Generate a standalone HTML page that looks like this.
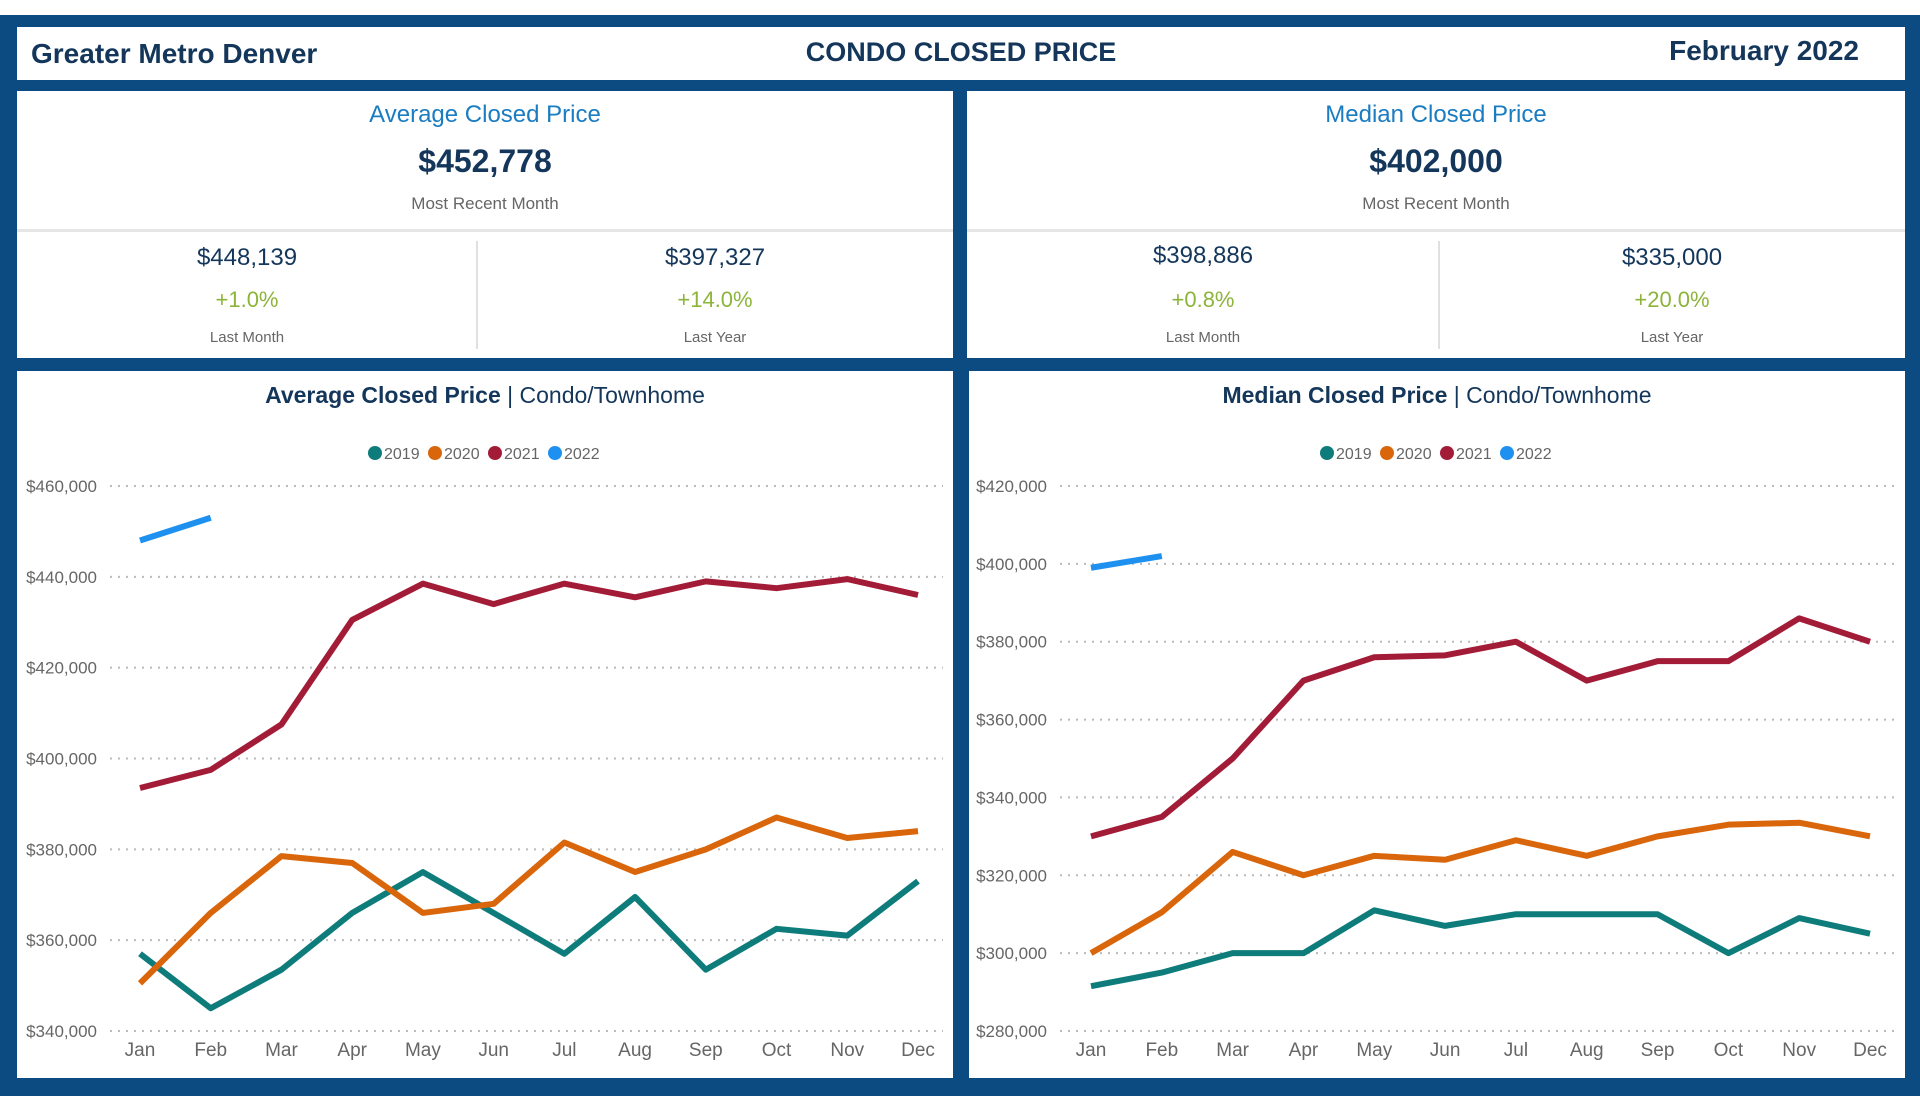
<!DOCTYPE html>
<html><head><meta charset="utf-8"><style>
body{margin:0;width:1920px;height:1110px;background:#fff;position:relative;overflow:hidden;font-family:"Liberation Sans",sans-serif;}
.abs{position:absolute;}
.frame{left:0;top:15px;width:1920px;height:1081px;background:#0c4a82;}
.box{background:#fff;position:absolute;}
.c{text-align:center;white-space:nowrap;}
</style></head><body>
<div class="abs frame"></div>
<div class="box" style="left:17px;top:27px;width:1888px;height:53px">
  <div class="abs" style="left:14px;top:11px;font-size:28px;font-weight:bold;color:#13365a;">Greater Metro Denver</div>
  <div class="abs c" style="left:644px;width:600px;top:10px;font-size:27px;font-weight:bold;color:#13365a;">CONDO CLOSED PRICE</div>
  <div class="abs" style="right:46px;top:8px;font-size:28px;font-weight:bold;color:#13365a;">February 2022</div>
</div>

<div class="box" style="left:17px;top:91px;width:936px;height:267px">
  <div class="abs c" style="left:0;width:936px;top:10px;font-size:24px;color:#1a7cc1">Average Closed Price</div>
  <div class="abs c" style="left:0;width:936px;top:52px;font-size:32px;font-weight:bold;color:#13365a">$452,778</div>
  <div class="abs c" style="left:0;width:936px;top:103px;font-size:17px;color:#666">Most Recent Month</div>
  <div class="abs" style="left:0;top:138px;width:936px;height:3px;background:#e6e6e6"></div>
  <div class="abs" style="left:459px;top:150px;width:2px;height:108px;background:#e0e0e0"></div>
  <div class="abs c" style="left:0;width:460px;top:153px;font-size:24px;color:#13365a">$448,139</div>
  <div class="abs c" style="left:0;width:460px;top:196px;font-size:22px;color:#8db43a">+1.0%</div>
  <div class="abs c" style="left:0;width:460px;top:238px;font-size:15px;color:#666">Last Month</div>
  <div class="abs c" style="left:460px;width:476px;top:153px;font-size:24px;color:#13365a">$397,327</div>
  <div class="abs c" style="left:460px;width:476px;top:196px;font-size:22px;color:#8db43a">+14.0%</div>
  <div class="abs c" style="left:460px;width:476px;top:238px;font-size:15px;color:#666">Last Year</div>
</div>

<div class="box" style="left:967px;top:91px;width:938px;height:267px">
  <div class="abs c" style="left:0;width:938px;top:10px;font-size:24px;color:#1a7cc1">Median Closed Price</div>
  <div class="abs c" style="left:0;width:938px;top:52px;font-size:32px;font-weight:bold;color:#13365a">$402,000</div>
  <div class="abs c" style="left:0;width:938px;top:103px;font-size:17px;color:#666">Most Recent Month</div>
  <div class="abs" style="left:0;top:138px;width:938px;height:3px;background:#e6e6e6"></div>
  <div class="abs" style="left:471px;top:150px;width:2px;height:108px;background:#e0e0e0"></div>
  <div class="abs c" style="left:0;width:472px;top:151px;font-size:24px;color:#13365a">$398,886</div>
  <div class="abs c" style="left:0;width:472px;top:196px;font-size:22px;color:#8db43a">+0.8%</div>
  <div class="abs c" style="left:0;width:472px;top:238px;font-size:15px;color:#666">Last Month</div>
  <div class="abs c" style="left:472px;width:466px;top:153px;font-size:24px;color:#13365a">$335,000</div>
  <div class="abs c" style="left:472px;width:466px;top:196px;font-size:22px;color:#8db43a">+20.0%</div>
  <div class="abs c" style="left:472px;width:466px;top:238px;font-size:15px;color:#666">Last Year</div>
</div>

<div class="box" style="left:17px;top:371px;width:936px;height:707px"></div>
<div class="box" style="left:969px;top:371px;width:936px;height:707px"></div>
<svg class="abs" style="left:0;top:0" width="1920" height="1110" id="charts"></svg>

<script>
const months=["Jan","Feb","Mar","Apr","May","Jun","Jul","Aug","Sep","Oct","Nov","Dec"];
const years=["2019","2020","2021","2022"];
const avg2019=[357000,345000,353500,366000,375000,366000,357000,369500,353500,362500,361000,373000];
const avg2020=[350500,366000,378500,377000,366000,368000,381500,375000,380000,387000,382500,384000];
const avg2021=[393500,397500,407500,430500,438500,434000,438500,435500,439000,437500,439500,436000];
const avg2022=[448000,453000];
const avgTicks=[340000,360000,380000,400000,420000,440000,460000];
const med2019=[291500,295000,300000,300000,311000,307000,310000,310000,310000,300000,309000,305000];
const med2020=[300000,310500,326000,320000,325000,324000,329000,325000,330000,333000,333500,330000];
const med2021=[330000,335000,350000,370000,376000,376500,380000,370000,375000,375000,386000,380000];
const med2022=[399000,402000];
const medTicks=[280000,300000,320000,340000,360000,380000,400000,420000];
const colors=["#0e7c7b","#d9660b","#a31c37","#1e90f0"];
const NS="http://www.w3.org/2000/svg";
const svg=document.getElementById('charts');
function mk(tag,attrs,parent){const e=document.createElementNS(NS,tag);for(const k in attrs)e.setAttribute(k,attrs[k]);(parent||svg).appendChild(e);return e;}
function chart(o){
  const g=mk('g',{});
  
  
  const y=v=>o.yb-(v-o.t[0])/(o.t[o.t.length-1]-o.t[0])*(o.yb-o.yt);
  const x=i=>o.x0+i*(o.x1-o.x0)/11;
  const t=mk('text',{x:o.cx,y:403,'text-anchor':'middle','font-size':23,fill:'#13365a'},g);
  
  
  const b=mk('tspan',{'font-weight':'bold'},t);b.textContent=o.title;
  const s=mk('tspan',{},t);s.textContent=" | Condo/Townhome";
  const lx=o.cx-110;
  years.forEach((yr,i)=>{
    const lg=mk('g',{},g);
    
    
    const px=lx+i*60;
    mk('circle',{cx:px,cy:453,r:7,fill:colors[i]},lg);
    const tx=mk('text',{x:px+9,y:459,'font-size':16,fill:'#666'},lg);tx.textContent=yr;
  });
  o.t.forEach(v=>{
    const gl=mk('line',{x1:o.gx0,x2:o.gx1,y1:y(v),y2:y(v),stroke:'#bbb','stroke-width':2,'stroke-dasharray':'2,6'},g);
    
    
    const tl=mk('text',{x:o.gx0-13,y:y(v)+6,'text-anchor':'end','font-size':17,fill:'#666'},g);
    
    
    tl.textContent='$'+v.toLocaleString('en-US');
  });
  months.forEach((m,i)=>{
    const ml=mk('text',{x:x(i),y:1056,'text-anchor':'middle','font-size':19,fill:'#666'},g);
    
    
    ml.textContent=m;
  });
  o.series.forEach((d,si)=>{
    const p=mk('polyline',{points:d.map((v,i)=>x(i)+','+y(v)).join(' '),fill:'none',stroke:colors[si],'stroke-width':6,'stroke-linejoin':'round'},g);
    
    
  });
}
chart({name:'avg-price-chart',title:'Average Closed Price',cx:485,x0:140,x1:918,gx0:110,gx1:943,yt:486,yb:1031,t:avgTicks,series:[avg2019,avg2020,avg2021,avg2022]});
chart({name:'median-price-chart',title:'Median Closed Price',cx:1437,x0:1091,x1:1870,gx0:1060,gx1:1896,yt:486,yb:1031,t:medTicks,series:[med2019,med2020,med2021,med2022]});
</script>
</body></html>
